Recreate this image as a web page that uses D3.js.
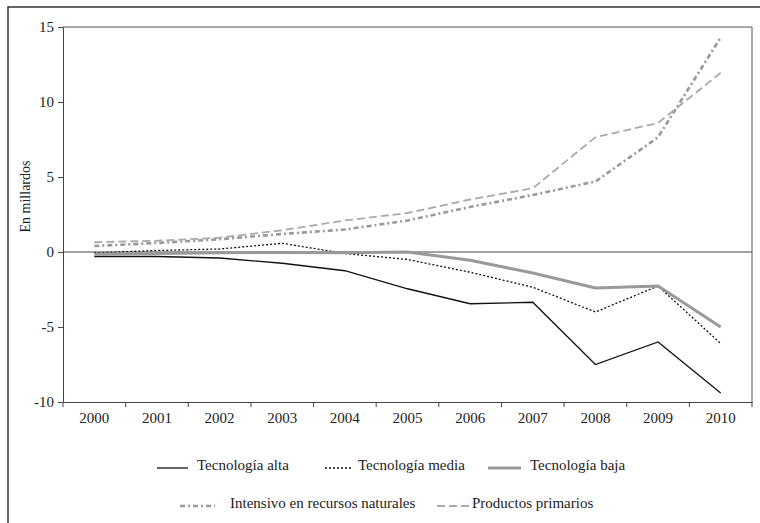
<!DOCTYPE html>
<html>
<head>
<meta charset="utf-8">
<script src="https://cdn.jsdelivr.net/npm/d3@7"></script>
<style>
  html, body { margin: 0; padding: 0; background: #fff; }
  svg { display: block; }
  text { font-family: "Liberation Serif", "DejaVu Serif", serif; fill: #222; }
</style>
</head>
<body>
<svg id="chart" width="760" height="523"></svg>
<script>
// ---- data ----
const years = ["2000","2001","2002","2003","2004","2005","2006","2007","2008","2009","2010"];
const tecAlta    = [-0.3, -0.3, -0.4, -0.75, -1.25, -2.45, -3.45, -3.35, -7.5, -6.0, -9.4];
const tecMedia   = [-0.05, 0.1, 0.2, 0.58, -0.1, -0.5, -1.35, -2.35, -4.0, -2.27, -6.1];
const tecBaja    = [-0.15, -0.1, -0.05, -0.03, -0.05, 0.0, -0.55, -1.4, -2.4, -2.27, -5.0];
const intensivo  = [0.4, 0.6, 0.85, 1.2, 1.5, 2.1, 3.0, 3.8, 4.7, 7.65, 14.3];
const primarios  = [0.65, 0.75, 0.95, 1.45, 2.1, 2.6, 3.5, 4.25, 7.65, 8.6, 11.95];
const yTicks = [-10, -5, 0, 5, 10, 15];
const seriesNames = ["Tecnología alta","Tecnología media","Tecnología baja","Intensivo en recursos naturales","Productos primarios"];
const yTitle = "En millardos";

// ---- styles (not data) ----
const styles = [
  { stroke: "#111", width: 1.3, dash: null },
  { stroke: "#111", width: 1.3, dash: "2,2" },
  { stroke: "#999", width: 3, dash: null },
  { stroke: "#999", width: 2.6, dash: "5,3,2,3" },
  { stroke: "#aaa", width: 1.8, dash: "8,4" }
];
const allSeries = [tecAlta, tecMedia, tecBaja, intensivo, primarios].map((v, i) => ({
  name: seriesNames[i], values: v, style: styles[i]
}));

const svg = d3.select("#chart");
const pLeft = 63, pRight = 752, pTop = 27, pBottom = 402;

// outer frame
svg.append("path").attr("d", "M8,523 L8,7 L760,7")
  .attr("fill", "none").attr("stroke", "#333").attr("stroke-width", 1.5);

const x = d3.scaleBand().domain(years).range([pLeft, pRight]).padding(0);
const y = d3.scaleLinear().domain([-10, 15]).range([pBottom, pTop]);

// plot frame (top and right)
svg.append("path").attr("d", `M${pLeft},${pTop} L${pRight},${pTop} L${pRight},${pBottom}`)
  .attr("fill", "none").attr("stroke", "#555").attr("stroke-width", 1);

// zero line
svg.append("line").attr("x1", pLeft).attr("x2", pRight)
  .attr("y1", y(0)).attr("y2", y(0)).attr("stroke", "#444").attr("stroke-width", 1);

// y axis
const yAxis = svg.append("g").attr("transform", `translate(${pLeft},0)`)
  .call(d3.axisLeft(y).tickValues(yTicks).tickFormat(d => String(d)).tickSize(5).tickPadding(4).tickSizeOuter(0));
yAxis.select(".domain").attr("stroke", "#444");
yAxis.selectAll(".tick line").attr("stroke", "#444");
yAxis.selectAll("text").attr("font-size", 15).attr("fill", "#222");

// x axis with ticks at band boundaries
const xAxis = svg.append("g").attr("transform", `translate(0,${pBottom})`)
  .call(d3.axisBottom(x).tickSize(0).tickPadding(10).tickSizeOuter(0));
xAxis.select(".domain").attr("stroke", "#444");
xAxis.selectAll("text").attr("font-size", 15).attr("fill", "#222");
const boundaries = years.map(d => x(d)).concat([pRight]);
svg.append("g").selectAll("line").data(boundaries).join("line")
  .attr("x1", d => d).attr("x2", d => d)
  .attr("y1", pBottom).attr("y2", pBottom + 5)
  .attr("stroke", "#444");

// y title
svg.append("text")
  .attr("transform", `translate(27,${(pTop + pBottom) / 2 - 18}) rotate(-90)`)
  .attr("text-anchor", "middle").attr("dominant-baseline", "middle")
  .attr("font-size", 14).text(yTitle);

// lines
const line = d3.line().x((d, i) => x(years[i]) + x.bandwidth() / 2).y(d => y(d));
svg.append("g").selectAll("path").data(allSeries).join("path")
  .attr("d", d => line(d.values))
  .attr("fill", "none")
  .attr("stroke", d => d.style.stroke)
  .attr("stroke-width", d => d.style.width)
  .attr("stroke-dasharray", d => d.style.dash)
  .attr("stroke-linejoin", "miter");

// legend
const legendPos = [
  { x1: 157, x2: 188, tx: 197, y: 467 },
  { x1: 325, x2: 353, tx: 358, y: 467 },
  { x1: 488, x2: 521, tx: 530, y: 467 },
  { x1: 180, x2: 215, tx: 230, y: 505 },
  { x1: 437, x2: 470, tx: 472, y: 505 }
];
const lg = svg.append("g").selectAll("g").data(allSeries).join("g");
lg.append("line")
  .attr("x1", (d, i) => legendPos[i].x1).attr("x2", (d, i) => legendPos[i].x2)
  .attr("y1", (d, i) => legendPos[i].y + 1).attr("y2", (d, i) => legendPos[i].y + 1)
  .attr("stroke", d => d.style.stroke)
  .attr("stroke-width", d => d.style.width)
  .attr("stroke-dasharray", d => d.style.dash);
lg.append("text")
  .attr("x", (d, i) => legendPos[i].tx).attr("y", (d, i) => legendPos[i].y)
  .attr("dominant-baseline", "middle")
  .attr("font-size", 15).text(d => d.name);
</script>
</body>
</html>
